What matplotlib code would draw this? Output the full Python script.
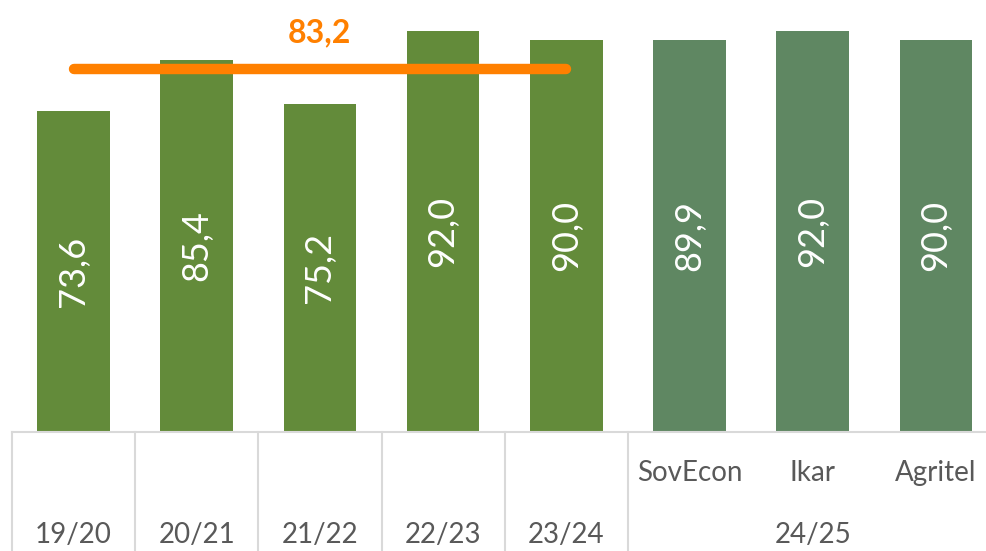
import numpy as np
import matplotlib
matplotlib.use("Agg")
import matplotlib.pyplot as plt
import matplotlib.transforms as mtransforms

plt.rcParams['font.family'] = ['Lato', 'DejaVu Sans']

# data
seasons = ["19/20", "20/21", "21/22", "22/23", "23/24"]
sources = ["SovEcon", "Ikar", "Agritel"]
forecast_season = "24/25"
season_values = [73.6, 85.4, 75.2, 92.0, 90.0]
forecast_values = [89.9, 92.0, 90.0]
average_value = 83.2

hist_color = "#638B3A"
fc_color = "#5F8762"
avg_color = "#FF8000"
text_grey = "#595959"
line_grey = "#D9D9D9"

W, H = 987, 551
fig = plt.figure(figsize=(W / 100, H / 100), dpi=100)

px_per_cat = 123.2
left_px = 11.9
base_px = 431.0
ymax = 99.0
px_per_unit = 4.348
n = len(season_values) + len(forecast_values)
ax = fig.add_axes([left_px / W, (H - base_px) / H,
                   n * px_per_cat / W, ymax * px_per_unit / H])

values = season_values + forecast_values
colors = [hist_color] * len(season_values) + [fc_color] * len(forecast_values)
x = np.arange(n)
bars = ax.bar(x, values, width=0.59, color=colors, zorder=2)

for xi, v in zip(x, values):
    ax.text(xi, v / 2, f"{v:.1f}".replace(".", ","), rotation=90,
            ha="center", va="center", color="white", fontsize=26, zorder=3)

# average line over historical seasons
ax.plot([0, len(season_values) - 1], [average_value, average_value],
        color=avg_color, lw=7.5, solid_capstyle="round", zorder=4)
ax.text((len(season_values) - 1) / 2, 91.6, f"{average_value:.1f}".replace(".", ","),
        ha="center", va="center", color=avg_color, fontsize=23,
        fontweight="bold")

ax.set_xlim(-0.5, n - 0.5)
ax.set_ylim(0, ymax)
ax.axis("off")

# category axis drawn by hand (two levels)
trans = mtransforms.blended_transform_factory(ax.transData, fig.transFigure)
y_axis = (H - 432) / H
ax.plot([-0.5, n + 0.5], [y_axis, y_axis], color=line_grey, lw=1.5,
        transform=trans, clip_on=False)
for b in np.arange(len(season_values) + 1) - 0.5:
    ax.plot([b, b], [y_axis, 0], color=line_grey, lw=1.5,
            transform=trans, clip_on=False)

y_lvl1 = (H - 473) / H
y_lvl2 = (H - 535) / H
for i, s in enumerate(seasons):
    ax.text(i, y_lvl2, s, transform=trans, ha="center", va="center",
            color=text_grey, fontsize=20)
for j, s in enumerate(sources):
    ax.text(len(seasons) + j, y_lvl1, s, transform=trans, ha="center",
            va="center", color=text_grey, fontsize=20)
ax.text(len(seasons) + (len(sources) - 1) / 2, y_lvl2, forecast_season,
        transform=trans, ha="center", va="center", color=text_grey, fontsize=20)

fig.savefig("out.png", dpi=100)
